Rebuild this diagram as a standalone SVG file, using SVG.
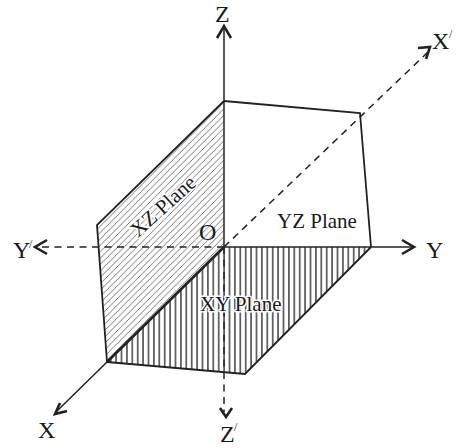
<svg xmlns="http://www.w3.org/2000/svg" width="459" height="448" viewBox="0 0 459 448">
<style>
.t{font-family:"Liberation Serif","Times New Roman",serif;fill:#1a1a1a}
.ax{font-size:24px}
.pl{font-size:21px;paint-order:stroke;stroke:#fff;stroke-width:3px;stroke-linejoin:round}
.sup{font-size:12px}
.edge{fill:none;stroke:#222;stroke-width:1.8}
.axis{fill:none;stroke:#222;stroke-width:1.5}
.dash{stroke-dasharray:7 5.5}
.head{fill:none;stroke:#222;stroke-width:2.6}
</style>
<defs>
<pattern id="diag" width="6.4" height="6.4" patternUnits="userSpaceOnUse">
<path d="M-1 7.4L7.4-1M-1 1L1-1M5.4 7.4L7.4 5.4" stroke="#555" stroke-width=".8" fill="none"/>
</pattern>
<pattern id="vert" width="5.4" height="10" patternUnits="userSpaceOnUse">
<path d="M2.7 0V10" stroke="#222" stroke-width="1.3" fill="none"/>
</pattern>
</defs>
<g id="plane-xz"><path d="M224 101L97 225L107 362L224 247Z" fill="url(#diag)"/><path class="edge" d="M224 101L97 225L107 362"/></g>
<g id="plane-xy"><path d="M224 247L371 247L245 374L107 362Z" fill="url(#vert)"/><path class="edge" d="M107 362L245 374L371 247"/></g>
<g id="plane-yz"><path class="edge" d="M224 101L360 113L371 247"/></g>
<g id="connectors">
<path class="axis" d="M224 247V28"/>
<path class="head" d="M217 38L224 26L231 38"/>
<path class="axis" d="M224 247H412"/>
<path class="head" d="M402 240L414 247L402 254"/>
<path class="axis dash" d="M224 247H36"/>
<path class="head" d="M47 240L35 247L47 254"/>
<path class="axis dash" d="M224 247V412"/>
<path class="head" d="M221 408L227 417L233 408" transform="translate(-1 0)"/>
<path class="axis dash" d="M224 247L428 52"/>
<path class="head" d="M418 48L430 47L426 59"/>
<path class="edge" d="M224 247L107 362" style="stroke-width:2.6"/>
<path class="axis" d="M107 362L56 412"/>
<path class="head" d="M60 403L55 414L67 411"/>
</g>
<g id="labels">
<text class="t ax" x="215" y="22">Z</text>
<text class="t ax" x="426" y="258">Y</text>
<text class="t ax" x="13" y="258">Y</text><text class="t sup" x="29" y="248">/</text>
<text class="t ax" x="38" y="438">X</text>
<text class="t ax" x="220" y="442">Z</text><text class="t sup" x="234" y="431">/</text>
<text class="t ax" x="432" y="49">X</text><text class="t sup" x="449" y="38">/</text>
<text class="t ax" x="199" y="240">O</text>
<text class="t pl" x="277" y="228">YZ Plane</text>
<text class="t pl" x="200" y="311">XY Plane</text>
<text class="t pl" transform="translate(138 238) rotate(-42)">XZ Plane</text>
</g>
</svg>
